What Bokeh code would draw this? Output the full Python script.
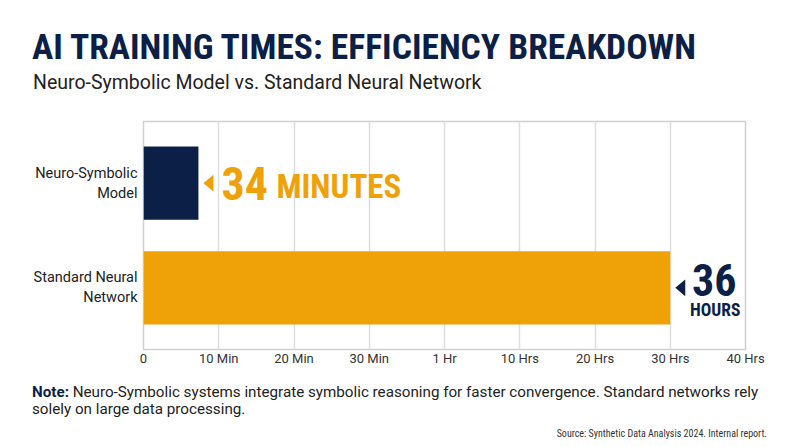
import numpy as np
from bokeh.plotting import figure
from bokeh.models import FactorRange, Range1d, FixedTicker, Div
from bokeh.layouts import column
from bokeh.core.properties import value
from bokeh.embed import file_html
from bokeh.resources import INLINE

# ---- data ----
categories = ["Neuro-Symbolic\nModel", "Standard Neural\nNetwork"]
bar_positions = [0.73, 7.0]          # position on the (stepped) time axis
big_numbers = ["34", "36"]
units = ["MINUTES", "HOURS"]
tick_values = [0, 1, 2, 3, 4, 5, 6, 7, 8]
tick_labels = ["0", "10 Min", "20 Min", "30 Min", "1 Hr", "10 Hrs", "20 Hrs", "30 Hrs", "40 Hrs"]

title_text = "AI TRAINING TIMES: EFFICIENCY BREAKDOWN"
subtitle_text = "Neuro-Symbolic Model vs. Standard Neural Network"
note_line1 = "Neuro-Symbolic systems integrate symbolic reasoning for faster convergence. Standard networks rely"
note_line2 = "solely on large data processing."
source_text = "Source: Synthetic Data Analysis 2024. Internal report."

NAVY = "#0c1f47"
ORANGE = "#efa208"
COND = "Roboto Condensed"
REG = "Roboto"

header = Div(width=800, height=113, margin=0, text=f"""
<div style="position:relative;width:800px;height:113px;">
<div style="position:absolute;left:32px;top:30px;font-family:'{COND}';font-weight:bold;font-size:35.5px;line-height:35.5px;color:{NAVY};white-space:nowrap;">{title_text}</div>
<div style="position:absolute;left:33px;top:73px;font-family:'{REG}';font-size:19.5px;line-height:19.5px;color:#222222;white-space:nowrap;">{subtitle_text}</div>
</div>""")

p = figure(width=800, height=266, output_backend="svg", toolbar_location=None,
           y_range=FactorRange(factors=categories[::-1], range_padding=0.09,
                               range_padding_units="absolute"),
           x_range=Range1d(0, 8),
           min_border_left=143, min_border_right=55, min_border_top=8, min_border_bottom=30)
p.outline_line_color = "#d0d0d0"
p.outline_line_width = 1.5
p.background_fill_color = "white"
p.border_fill_color = "white"

p.xgrid.grid_line_color = "#dedede"
p.xgrid.grid_line_width = 1.5
p.ygrid.grid_line_color = None
p.xaxis.ticker = FixedTicker(ticks=tick_values)
p.xaxis.major_label_overrides = {t: l for t, l in zip(tick_values, tick_labels)}
p.xaxis.axis_line_color = None
p.xaxis.major_tick_line_color = None
p.xaxis.minor_tick_line_color = None
p.xaxis.major_label_text_font = REG
p.xaxis.major_label_text_font_size = "13px"
p.xaxis.major_label_text_color = "#333333"
p.xaxis.major_label_standoff = -5

p.yaxis.axis_line_color = None
p.yaxis.major_tick_line_color = None
p.yaxis.major_label_text_font = REG
p.yaxis.major_label_text_font_size = "14.5px"
p.yaxis.major_label_text_color = "#222222"
p.yaxis.major_label_standoff = 0

colors = [NAVY, ORANGE]
p.hbar(y=categories, left=0, right=bar_positions, height=0.7, color=colors, line_color=None)

# pointer triangles (offsets from bar ends: pixel gap converted to axis units)
px = 1 / 75.25
tri_xs = [[v + 5 * px, v + 15 * px, v + 15 * px] for v in bar_positions]
tri_ys = [[(c, 0.0), (c, 0.08), (c, -0.08)] for c in categories]
p.patches(xs=tri_xs, ys=tri_ys, color=[ORANGE, NAVY], line_color=None)

# value annotations
p.text(x=[bar_positions[0]], y=[categories[0]], text=[big_numbers[0]], x_offset=23, y_offset=0,
       text_font=value(COND), text_font_style="bold", text_font_size="46px",
       text_color=ORANGE, text_baseline="middle", text_align="left")
p.text(x=[bar_positions[0]], y=[categories[0]], text=[units[0]], x_offset=78, y_offset=3,
       text_font=value(COND), text_font_style="bold", text_font_size="33px",
       text_color=ORANGE, text_baseline="middle", text_align="left")
p.text(x=[bar_positions[1]], y=[categories[1]], text=[big_numbers[1]], x_offset=44, y_offset=-8,
       text_font=value(COND), text_font_style="bold", text_font_size="44px",
       text_color=NAVY, text_baseline="middle", text_align="center")
p.text(x=[bar_positions[1]], y=[categories[1]], text=[units[1]], x_offset=45, y_offset=22,
       text_font=value(COND), text_font_style="bold", text_font_size="17.5px",
       text_color=NAVY, text_baseline="middle", text_align="center")

footer = Div(width=800, height=68, margin=0, text=f"""
<div style="position:relative;width:800px;height:68px;">
<div style="position:absolute;left:32px;top:5px;font-family:'{REG}';font-size:15.2px;line-height:17px;color:#222222;white-space:nowrap;"><b style="color:{NAVY};">Note:</b> {note_line1}<br>{note_line2}</div>
<div style="position:absolute;right:33px;top:50px;font-family:'{COND}';font-size:10px;line-height:10px;color:#333333;white-space:nowrap;">{source_text}</div>
</div>""")

layout = column(header, p, footer, spacing=0)
open("out.html", "w").write(file_html(layout, INLINE))
